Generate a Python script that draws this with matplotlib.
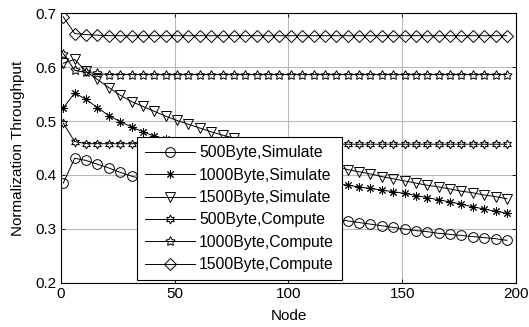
import numpy as np
import matplotlib
matplotlib.use("Agg")
import matplotlib.pyplot as plt

plt.rcParams['font.family'] = ['Liberation Sans', 'DejaVu Sans']

node = list(range(1, 200, 5))  # 1, 6, ..., 196

sim500 = [0.385, 0.431, 0.427, 0.420, 0.413, 0.405, 0.398, 0.392, 0.386, 0.380,
          0.375, 0.370, 0.365, 0.360, 0.355, 0.351, 0.347, 0.343, 0.339, 0.335,
          0.331, 0.328, 0.324, 0.321, 0.318, 0.315, 0.312, 0.309, 0.306, 0.303,
          0.300, 0.297, 0.295, 0.292, 0.290, 0.288, 0.286, 0.284, 0.282, 0.279]
sim1000 = [0.524, 0.552, 0.540, 0.525, 0.510, 0.499, 0.489, 0.480, 0.472, 0.466,
           0.460, 0.454, 0.448, 0.442, 0.436, 0.430, 0.424, 0.419, 0.413, 0.408,
           0.403, 0.398, 0.394, 0.389, 0.385, 0.381, 0.378, 0.375, 0.372, 0.369,
           0.366, 0.362, 0.358, 0.354, 0.350, 0.346, 0.341, 0.337, 0.333, 0.329]
sim1500 = [0.607, 0.614, 0.592, 0.577, 0.562, 0.548, 0.536, 0.527, 0.518, 0.509,
           0.501, 0.494, 0.487, 0.480, 0.474, 0.468, 0.462, 0.456, 0.450, 0.444,
           0.439, 0.433, 0.427, 0.421, 0.416, 0.410, 0.406, 0.402, 0.397, 0.393,
           0.389, 0.385, 0.381, 0.378, 0.374, 0.370, 0.367, 0.363, 0.360, 0.356]
comp500 = [0.496, 0.462] + [0.458] * 8 + [0.457] * 30
comp1000 = [0.625, 0.594, 0.590, 0.588] + [0.586] * 36
comp1500 = [0.693, 0.662, 0.660, 0.659] + [0.658] * 36

labels = ["500Byte,Simulate", "1000Byte,Simulate", "1500Byte,Simulate",
          "500Byte,Compute", "1000Byte,Compute", "1500Byte,Compute"]
series = [sim500, sim1000, sim1500, comp500, comp1000, comp1500]
markers = ['o', (8, 2, 0), 'v', (6, 1, 0), (5, 1, 0), 'D']
msizes = [7, 6, 7.5, 6.5, 7, 6.5]

fig = plt.figure(figsize=(5.29, 3.27), dpi=100)
ax = fig.add_axes([0.1153, 0.1346, 0.8601, 0.8256])

for vals, lab, m, ms in zip(series, labels, markers, msizes):
    ax.plot(node, vals, color='black', lw=0.7, marker=m, markersize=ms,
            markerfacecolor='none', markeredgecolor='black', markeredgewidth=0.7,
            label=lab)

ax.set_xlim(0, 200)
ax.set_ylim(0.2, 0.7)
ax.set_xticks([0, 50, 100, 150, 200])
ax.set_yticks([0.2, 0.3, 0.4, 0.5, 0.6, 0.7])
ax.set_yticklabels(['0.2', '0.3', '0.4', '0.5', '0.6', '0.7'])
ax.grid(True, color='#b8b8b8', lw=0.8, ls='-')
ax.set_axisbelow(True)
ax.tick_params(direction='in', top=True, right=True, length=3, width=0.6,
               labelsize=11, pad=3)
for s in ax.spines.values():
    s.set_linewidth(0.8)
ax.set_xlabel('Node', fontsize=11, labelpad=6)
ax.set_ylabel('Normalization Throughput', fontsize=11, labelpad=8)

leg = ax.legend(loc='lower left', bbox_to_anchor=(0.167, 0.011), fontsize=11.3,
                frameon=True, fancybox=False, edgecolor='black', framealpha=1,
                handlelength=3.2, handletextpad=0.25, labelspacing=0.47,
                borderpad=0.5, borderaxespad=0)
leg.get_frame().set_linewidth(0.8)

fig.savefig('out.png', dpi=100)
